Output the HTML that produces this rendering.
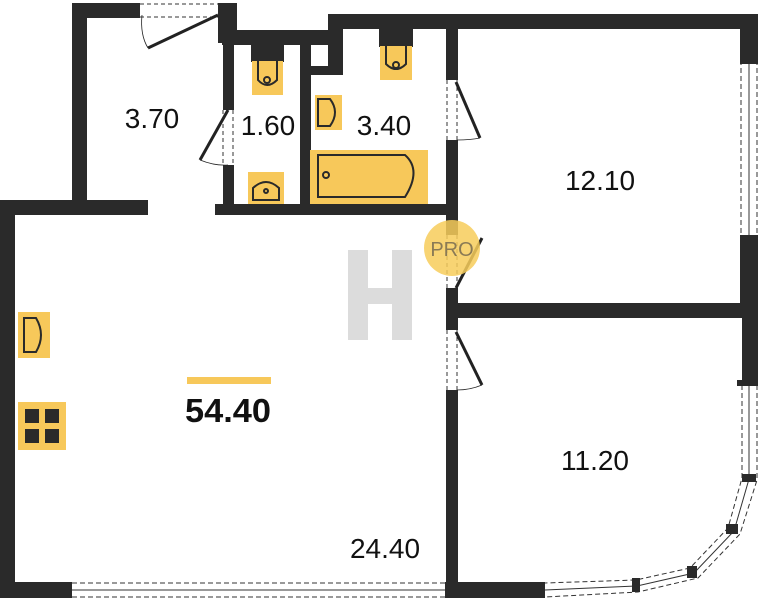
<!DOCTYPE html><html><head><style>body{margin:0;background:#fff}svg{display:block}text{font-family:"Liberation Sans",sans-serif}</style></head><body>
<svg width="758" height="600" viewBox="0 0 758 600" xmlns="http://www.w3.org/2000/svg">
<g fill="#2a2a2a">
<rect x="72" y="3" width="15" height="212"/>
<rect x="72" y="3" width="68" height="15"/>
<rect x="218" y="3" width="19" height="40"/>
<rect x="222" y="30" width="121" height="15"/>
<rect x="223" y="30" width="11" height="80"/>
<rect x="223" y="165" width="11" height="50"/>
<rect x="300" y="45" width="11" height="170"/>
<rect x="310" y="66" width="33" height="9"/>
<rect x="328" y="14" width="15" height="61"/>
<rect x="328" y="14" width="430" height="15"/>
<rect x="446" y="28" width="12" height="52"/>
<rect x="446" y="140" width="12" height="95"/>
<rect x="446" y="288" width="12" height="42"/>
<rect x="446" y="390" width="12" height="208"/>
<rect x="215" y="204" width="232" height="11"/>
<rect x="0" y="200" width="148" height="15"/>
<rect x="0" y="200" width="15" height="398"/>
<rect x="0" y="582" width="72" height="16"/>
<rect x="445" y="582" width="100" height="16"/>
<rect x="740" y="14" width="18" height="46"/>
<rect x="740" y="240" width="18" height="65"/>
<rect x="447" y="303" width="311" height="15"/>
<rect x="742" y="303" width="16" height="82"/>
</g>
<g fill="none" stroke="#333" stroke-width="1">
<line x1="140" y1="4" x2="218" y2="4" stroke-dasharray="4 3"/>
<line x1="140" y1="17" x2="218" y2="17" stroke-dasharray="4 3"/>
<line x1="72" y1="583" x2="445" y2="583" stroke-dasharray="5 3"/>
<line x1="72" y1="597" x2="445" y2="597" stroke-dasharray="5 3"/>
<line x1="72" y1="590" x2="445" y2="590"/>
<line x1="741" y1="60" x2="741" y2="240" stroke-dasharray="5 3"/>
<line x1="757" y1="60" x2="757" y2="240" stroke-dasharray="5 3"/>
<line x1="749" y1="60" x2="749" y2="240"/>
<polyline points="742,385 742,478 728,528 690,568 636,580 545,583" stroke-dasharray="5 3"/>
<polyline points="757,385 757,480 740,534 698,578 638,592 545,597" stroke-dasharray="5 3"/>
<polyline points="749,385 749,479 734,531 694,573 637,586 545,590"/>
<line x1="223" y1="110" x2="223" y2="165" stroke-dasharray="4 3"/>
<line x1="233" y1="110" x2="233" y2="165" stroke-dasharray="4 3"/>
<line x1="447" y1="80" x2="447" y2="140" stroke-dasharray="4 3"/>
<line x1="457" y1="80" x2="457" y2="140" stroke-dasharray="4 3"/>
<line x1="447" y1="330" x2="447" y2="390" stroke-dasharray="4 3"/>
<line x1="457" y1="330" x2="457" y2="390" stroke-dasharray="4 3"/>
<line x1="447" y1="235" x2="447" y2="288" stroke-dasharray="4 3"/>
<line x1="457" y1="235" x2="457" y2="288" stroke-dasharray="4 3"/>
</g>
<g fill="#2a2a2a"><rect x="737" y="380" width="22" height="6"/><rect x="740" y="235" width="18" height="6"/><rect x="740" y="58" width="18" height="6"/>
<rect x="742" y="474" width="14" height="8"/><rect x="726" y="524" width="12" height="10"/><rect x="687" y="566" width="10" height="12"/><rect x="632" y="578" width="8" height="14"/></g>
<g stroke="#222" stroke-width="3" fill="none">
<line x1="218" y1="15" x2="148" y2="48"/>
<line x1="228" y1="110" x2="200" y2="160"/>
<line x1="456" y1="82" x2="480" y2="138"/>
<line x1="456" y1="332" x2="482" y2="385"/>
<line x1="456" y1="288" x2="482" y2="238"/>
</g>
<g stroke="#222" stroke-width="0.8" fill="none">
<path d="M148,48 Q140,35 142,15"/><path d="M200,160 Q215,166 228,165"/><path d="M480,138 Q470,140 457,140"/><path d="M482,385 Q470,390 457,390"/>
</g>
<circle cx="452" cy="248" r="28" fill="#f7cd5a" opacity="0.85"/>
<text x="452" y="256" font-size="20" fill="#8a7a55" text-anchor="middle">PRO</text>
<g fill="#dcdcdc"><rect x="348" y="250" width="20" height="90"/><rect x="392" y="250" width="20" height="90"/><rect x="368" y="288" width="24" height="16"/></g>
<g stroke="#2a2a2a" stroke-width="2">
<rect x="252" y="45" width="31" height="16" fill="#2a2a2a"/><rect x="252" y="61" width="31" height="34" fill="#f7c85a" stroke="none"/>
<path d="M258,61 V80 Q267,90 277,80 V61" fill="none"/><circle cx="267" cy="80" r="3" fill="none"/>
<rect x="380" y="30" width="32" height="16" fill="#2a2a2a"/><rect x="380" y="46" width="32" height="34" fill="#f7c85a" stroke="none"/>
<path d="M386,46 V64 Q396,74 406,64 V46" fill="none"/><circle cx="396" cy="65" r="3" fill="none"/>
<rect x="315" y="95" width="27" height="35" fill="#f7c85a" stroke="none"/><path d="M318,99 H330 Q340,112 330,126 H318 Z" fill="none"/>
<rect x="310" y="150" width="118" height="54" fill="#f7c85a" stroke="none"/><path d="M318,155 H405 Q422,170 405,197 H318 Z" fill="none"/><circle cx="326" cy="175" r="3" fill="none"/>
<rect x="248" y="172" width="36" height="32" fill="#f7c85a" stroke="none"/><path d="M253,200 V188 Q266,176 279,188 V200 Z" fill="none"/><circle cx="266" cy="191" r="2" fill="none"/>
<rect x="18" y="312" width="32" height="46" fill="#f7c85a" stroke="none"/><path d="M24,318 H36 Q46,335 36,352 H24 Z" fill="none"/>
</g>
<rect x="18" y="402" width="48" height="48" fill="#f7c85a"/>
<g fill="#2a2a2a"><rect x="25" y="409" width="14" height="14"/><rect x="45" y="409" width="14" height="14"/><rect x="25" y="429" width="14" height="14"/><rect x="45" y="429" width="14" height="14"/></g>
<rect x="187" y="377" width="84" height="7" fill="#f7c85a"/>
<text x="185" y="422" font-size="33" font-weight="bold" fill="#111" textLength="86" lengthAdjust="spacingAndGlyphs">54.40</text>
<g font-size="28" fill="#111" text-anchor="middle">
<text x="152" y="128">3.70</text><text x="268" y="135">1.60</text><text x="384" y="135">3.40</text>
<text x="600" y="190">12.10</text><text x="595" y="470">11.20</text><text x="385" y="558">24.40</text>
</g>
</svg></body></html>
